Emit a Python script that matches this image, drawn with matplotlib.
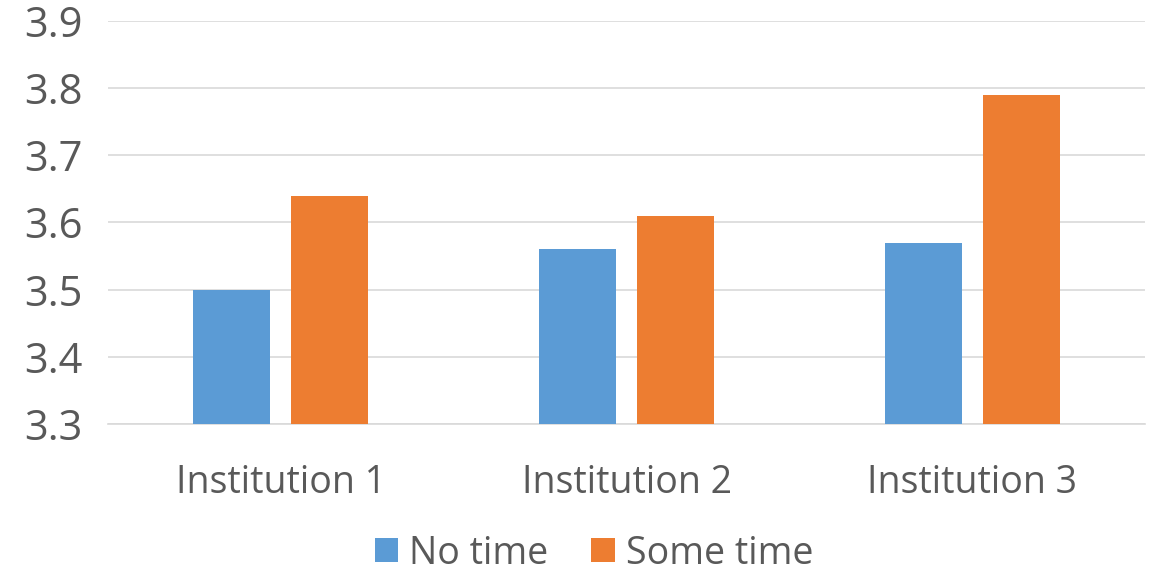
import matplotlib
matplotlib.use("Agg")
import matplotlib.pyplot as plt
import numpy as np

categories = ["Institution 1", "Institution 2", "Institution 3"]
series_names = ["No time", "Some time"]
no_time = [3.50, 3.56, 3.57]
some_time = [3.64, 3.61, 3.79]
y_ticks = [3.3, 3.4, 3.5, 3.6, 3.7, 3.8, 3.9]

colors = ["#5B9BD5", "#ED7D31"]
text_color = "#595959"

plt.rcParams["font.family"] = ["Open Sans", "DejaVu Sans"]

fig = plt.figure(figsize=(11.49, 5.73), dpi=100)
ax = fig.add_axes([108 / 1149, 1 - 424 / 573, (1145 - 108) / 1149, (424 - 21) / 573])

x = np.arange(len(categories))
bw = 0.223
gap = 0.06
off = (bw + gap) / 2
ax.bar(x - off, no_time, bw, color=colors[0], label=series_names[0], zorder=3)
ax.bar(x + off, some_time, bw, color=colors[1], label=series_names[1], zorder=3)

ax.set_xlim(-0.5, len(categories) - 0.5)
ax.set_ylim(3.3, 3.9)
ax.set_yticks(y_ticks)
ax.set_yticklabels([f"{v:.1f}" for v in y_ticks])
ax.set_xticks(x)
ax.set_xticklabels(categories)
ax.tick_params(axis="both", length=0, labelsize=27, colors=text_color)
ax.tick_params(axis="y", pad=18, labelsize=30)
ax.tick_params(axis="x", pad=29)
ax.grid(axis="y", color="#D9D9D9", linewidth=1.2, zorder=0)
for s in ["top", "right", "left"]:
    ax.spines[s].set_visible(False)
ax.spines["bottom"].set_color("#D9D9D9")
ax.spines["bottom"].set_linewidth(1.2)

leg = fig.legend(loc="center", bbox_to_anchor=(0.517, 0.034), ncol=2, frameon=False,
                 fontsize=27, handlelength=0.62, handleheight=0.62, handletextpad=0.3,
                 columnspacing=1.15, labelcolor=text_color, borderpad=0)

fig.savefig("out.png", dpi=100)
